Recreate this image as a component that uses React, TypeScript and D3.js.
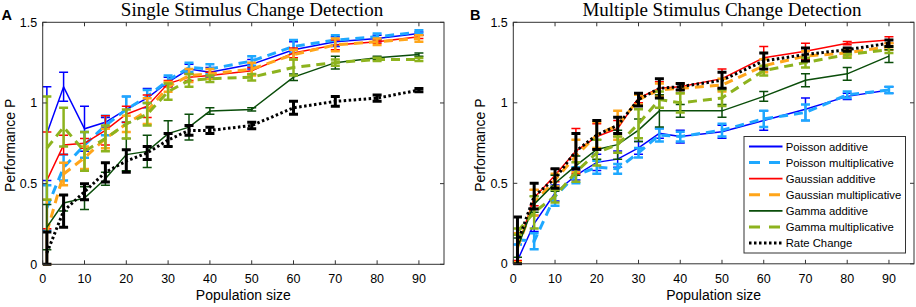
import React from "react";
import * as d3 from "d3";

const populationSizes = [1, 5, 10, 15, 20, 25, 30, 35, 40, 50, 60, 70, 80, 90];
const xTicks = [0, 10, 20, 30, 40, 50, 60, 70, 80, 90];
const yTicks = [0, 0.5, 1, 1.5];
const yTickLabels = ["0", "0.5", "1", "1.5"];
const seriesNames = [
  "Poisson additive",
  "Poisson multiplicative",
  "Gaussian additive",
  "Gaussian multiplicative",
  "Gamma additive",
  "Gamma multiplicative",
  "Rate Change",
];

// Panel A: Single Stimulus Change Detection
const aPoissonAdd = [0.81, 1.1, 0.84, 0.88, 0.96, 1.03, 1.13, 1.21, 1.19, 1.24, 1.33, 1.38, 1.4, 1.43];
const aPoissonAddErr = [0.29, 0.09, 0.14, 0.03, 0.08, 0.06, 0.03, 0.03, 0.03, 0.03, 0.05, 0.03, 0.02, 0.01];
const aPoissonMult = [0.35, 0.6, 0.74, 0.86, 0.96, 1.04, 1.14, 1.22, 1.21, 1.26, 1.35, 1.39, 1.41, 1.44];
const aPoissonMultErr = [0.14, 0.08, 0.08, 0.06, 0.08, 0.04, 0.03, 0.03, 0.03, 0.03, 0.04, 0.03, 0.02, 0.01];
const aGaussAdd = [0.52, 0.74, 0.75, 0.83, 0.93, 0.98, 1.12, 1.16, 1.17, 1.2, 1.31, 1.36, 1.38, 1.41];
const aGaussAddErr = [0.3, 0.06, 0.03, 0.09, 0.05, 0.07, 0.02, 0.02, 0.02, 0.02, 0.03, 0.03, 0.01, 0.01];
const aGaussMult = [0.2, 0.56, 0.66, 0.78, 0.87, 0.95, 1.1, 1.17, 1.18, 1.21, 1.3, 1.36, 1.38, 1.4];
const aGaussMultErr = [0.2, 0.07, 0.07, 0.06, 0.05, 0.08, 0.03, 0.04, 0.03, 0.04, 0.03, 0.04, 0.02, 0.02];
const aGammaAdd = [0.23, 0.38, 0.41, 0.53, 0.68, 0.7, 0.81, 0.85, 0.95, 0.96, 1.16, 1.25, 1.28, 1.3];
const aGammaAddErr = [0.14, 0.05, 0.07, 0.04, 0.1, 0.1, 0.08, 0.08, 0.02, 0.01, 0.02, 0.04, 0.01, 0.01];
const aGammaMult = [0.72, 0.85, 0.7, 0.78, 0.87, 0.93, 1.07, 1.14, 1.15, 1.16, 1.22, 1.25, 1.27, 1.27];
const aGammaMultErr = [0.32, 0.12, 0.12, 0.08, 0.09, 0.07, 0.05, 0.04, 0.02, 0.02, 0.05, 0.02, 0.01, 0.01];
const aRate = [0.07, 0.33, 0.45, 0.57, 0.64, 0.69, 0.77, 0.83, 0.83, 0.86, 0.97, 1.01, 1.03, 1.08];
const aRateErr = [0.13, 0.1, 0.05, 0.06, 0.07, 0.04, 0.04, 0.03, 0.02, 0.02, 0.04, 0.03, 0.02, 0.01];

// Panel B: Multiple Stimulus Change Detection
const bPoissonAdd = [0.02, 0.25, 0.44, 0.55, 0.63, 0.65, 0.72, 0.81, 0.79, 0.82, 0.89, 0.96, 1.04, 1.08];
const bPoissonAddErr = [0.1, 0.05, 0.05, 0.03, 0.05, 0.05, 0.04, 0.03, 0.04, 0.04, 0.06, 0.07, 0.02, 0.02];
const bPoissonMult = [0.15, 0.14, 0.42, 0.55, 0.6, 0.59, 0.69, 0.8, 0.79, 0.83, 0.9, 0.94, 1.05, 1.08];
const bPoissonMultErr = [0.03, 0.05, 0.06, 0.05, 0.04, 0.03, 0.03, 0.04, 0.03, 0.04, 0.05, 0.05, 0.02, 0.02];
const bGaussAdd = [0.1, 0.41, 0.55, 0.7, 0.79, 0.84, 1.03, 1.09, 1.1, 1.15, 1.28, 1.32, 1.37, 1.39];
const bGaussAddErr = [0.08, 0.05, 0.04, 0.14, 0.08, 0.05, 0.03, 0.04, 0.02, 0.06, 0.07, 0.05, 0.01, 0.02];
const bGaussMult = [0.1, 0.38, 0.52, 0.67, 0.8, 0.86, 1.02, 1.08, 1.09, 1.11, 1.23, 1.29, 1.31, 1.35];
const bGaussMultErr = [0.09, 0.08, 0.04, 0.1, 0.08, 0.09, 0.03, 0.04, 0.03, 0.04, 0.04, 0.03, 0.02, 0.02];
const bGammaAdd = [0.1, 0.37, 0.5, 0.61, 0.71, 0.74, 0.83, 0.95, 0.95, 0.95, 1.04, 1.14, 1.18, 1.29];
const bGammaAddErr = [0.06, 0.05, 0.05, 0.06, 0.06, 0.09, 0.07, 0.1, 0.04, 0.04, 0.03, 0.04, 0.04, 0.04];
const bGammaMult = [0.2, 0.32, 0.42, 0.57, 0.69, 0.74, 0.87, 1.02, 1.0, 1.03, 1.2, 1.25, 1.3, 1.33];
const bGammaMultErr = [0.02, 0.1, 0.04, 0.06, 0.08, 0.05, 0.09, 0.05, 0.06, 0.05, 0.03, 0.03, 0.02, 0.02];
const bRate = [0.13, 0.42, 0.53, 0.7, 0.8, 0.86, 1.02, 1.09, 1.1, 1.14, 1.26, 1.3, 1.33, 1.37];
const bRateErr = [0.16, 0.08, 0.06, 0.11, 0.09, 0.05, 0.04, 0.06, 0.02, 0.05, 0.05, 0.04, 0.01, 0.02];

type Style = { color: string; width: number; dash: string | null; barWidth: number; legendDash: string | null };
const styles: Style[] = [
  { color: "#0000ff", width: 1.5, dash: null, barWidth: 1.5, legendDash: null },
  { color: "#1ea8ff", width: 3, dash: "9,6", barWidth: 2.5, legendDash: "11,9" },
  { color: "#ff0000", width: 1.5, dash: null, barWidth: 1.5, legendDash: null },
  { color: "#ffa51a", width: 3, dash: "9,6", barWidth: 2.5, legendDash: "11,9" },
  { color: "#0a4d0a", width: 1.5, dash: null, barWidth: 1.5, legendDash: null },
  { color: "#8db31e", width: 3, dash: "9,6", barWidth: 2.5, legendDash: "11,9" },
  { color: "#000000", width: 3, dash: "2.5,2.5", barWidth: 3, legendDash: "2.5,2.5" },
];

const panelA = {
  values: [aPoissonAdd, aPoissonMult, aGaussAdd, aGaussMult, aGammaAdd, aGammaMult, aRate],
  errors: [aPoissonAddErr, aPoissonMultErr, aGaussAddErr, aGaussMultErr, aGammaAddErr, aGammaMultErr, aRateErr],
};
const panelB = {
  values: [bPoissonAdd, bPoissonMult, bGaussAdd, bGaussMult, bGammaAdd, bGammaMult, bRate],
  errors: [bPoissonAddErr, bPoissonMultErr, bGaussAddErr, bGaussMultErr, bGammaAddErr, bGammaMultErr, bRateErr],
};

const SANS = "'Liberation Sans', Arial, sans-serif";
const SERIF = "'Liberation Serif', 'Times New Roman', serif";
const AXIS = "#333333";

function Panel(props: {
  left: number; right: number; top: number; bottom: number;
  title: string; titleX: number; letter: string; letterX: number; ylabelX: number;
  values: number[][]; errors: number[][]; legend: boolean; clipId: string;
}) {
  const { left, right, top, bottom, values, errors } = props;
  const x = d3.scaleLinear().domain([0, 96]).range([left, right]);
  const y = d3.scaleLinear().domain([0, 1.5]).range([bottom, top]);
  const line = d3.line<number>().x((_, i) => x(populationSizes[i])).y((v) => y(v));
  const tl = 4;
  const cap = 4.5;
  return (
    <g>
      <defs>
        <clipPath id={props.clipId}>
          <rect x={left} y={top - 2} width={right - left + 2} height={bottom - top + 4} />
        </clipPath>
      </defs>
      <rect x={left} y={top} width={right - left} height={bottom - top} fill="#fff" />
      <g clipPath={`url(#${props.clipId})`}>
        {values.map((vals, s) => {
          const st = styles[s];
          return (
            <g key={s}>
              <path d={line(vals) || ""} fill="none" stroke={st.color} strokeWidth={st.width}
                strokeDasharray={st.dash || undefined} />
              {vals.map((v, i) => {
                const e = errors[s][i];
                const cx = x(populationSizes[i]);
                const y1 = y(v + e);
                const y0 = y(Math.max(0, v - e));
                return (
                  <g key={i} stroke={st.color} strokeWidth={st.barWidth}>
                    <line x1={cx} x2={cx} y1={y0} y2={y1} />
                    <line x1={cx - cap} x2={cx + cap} y1={y1} y2={y1} />
                    <line x1={cx - cap} x2={cx + cap} y1={y0} y2={y0} />
                  </g>
                );
              })}
            </g>
          );
        })}
      </g>
      <rect x={left} y={top} width={right - left} height={bottom - top} fill="none" stroke={AXIS} strokeWidth={1} />
      {xTicks.map((t) => (
        <g key={t}>
          <line x1={x(t)} x2={x(t)} y1={bottom} y2={bottom - tl} stroke={AXIS} />
          <line x1={x(t)} x2={x(t)} y1={top} y2={top + tl} stroke={AXIS} />
          <text x={x(t)} y={283} textAnchor="middle" fontFamily={SANS} fontSize={12.5} fill="#000">{t}</text>
        </g>
      ))}
      {yTicks.map((t, i) => (
        <g key={t}>
          <line x1={left} x2={left + tl} y1={y(t)} y2={y(t)} stroke={AXIS} />
          <line x1={right} x2={right - tl} y1={y(t)} y2={y(t)} stroke={AXIS} />
          <text x={left - 5.5} y={y(t) + 4.5} textAnchor="end" fontFamily={SANS} fontSize={12.5} fill="#000">{yTickLabels[i]}</text>
        </g>
      ))}
      <text x={props.titleX} y={16} textAnchor="middle" fontFamily={SERIF} fontSize={19} fill="#000">{props.title}</text>
      <text x={props.letterX} y={20} fontFamily={SANS} fontWeight="bold" fontSize={14.5} fill="#000">{props.letter}</text>
      <text x={(left + right) / 2} y={300} textAnchor="middle" fontFamily={SANS} fontSize={14} fill="#000">Population size</text>
      <text transform={`translate(${props.ylabelX},${(top + bottom) / 2 + 2}) rotate(-90)`} textAnchor="middle"
        fontFamily={SANS} fontSize={14} fill="#000">Performance P</text>
      {props.legend && (
        <g>
          <rect x={744} y={136.5} width={161.5} height={116.5} fill="#fff" stroke={AXIS} strokeWidth={1} />
          {seriesNames.map((n, i) => {
            const st = styles[i];
            const yy = 146.5 + i * 16.1;
            return (
              <g key={n}>
                <line x1={749} x2={782.5} y1={yy} y2={yy} stroke={st.color} strokeWidth={st.width === 3 && i !== 6 ? 3 : st.width === 3 ? 3 : 1.8}
                  strokeDasharray={st.legendDash || undefined} />
                <text x={785.7} y={yy + 4} fontFamily={SANS} fontSize={11.3} fill="#000">{n}</text>
              </g>
            );
          })}
        </g>
      )}
    </g>
  );
}

export default function App() {
  return (
    <svg width={916} height={307} viewBox="0 0 916 307" style={{ position: "absolute", left: 0, top: 0, background: "#fff" }}>
      <rect x={0} y={0} width={916} height={307} fill="#fff" />
      <Panel left={42.7} right={444} top={22.3} bottom={264.3} title="Single Stimulus Change Detection" titleX={252}
        letter="A" letterX={1.5} ylabelX={15} values={panelA.values} errors={panelA.errors} legend={false} clipId="clipA" />
      <Panel left={513.3} right={914} top={22.3} bottom={263.8} title="Multiple Stimulus Change Detection" titleX={722}
        letter="B" letterX={470} ylabelX={485} values={panelB.values} errors={panelB.errors} legend={true} clipId="clipB" />
    </svg>
  );
}
